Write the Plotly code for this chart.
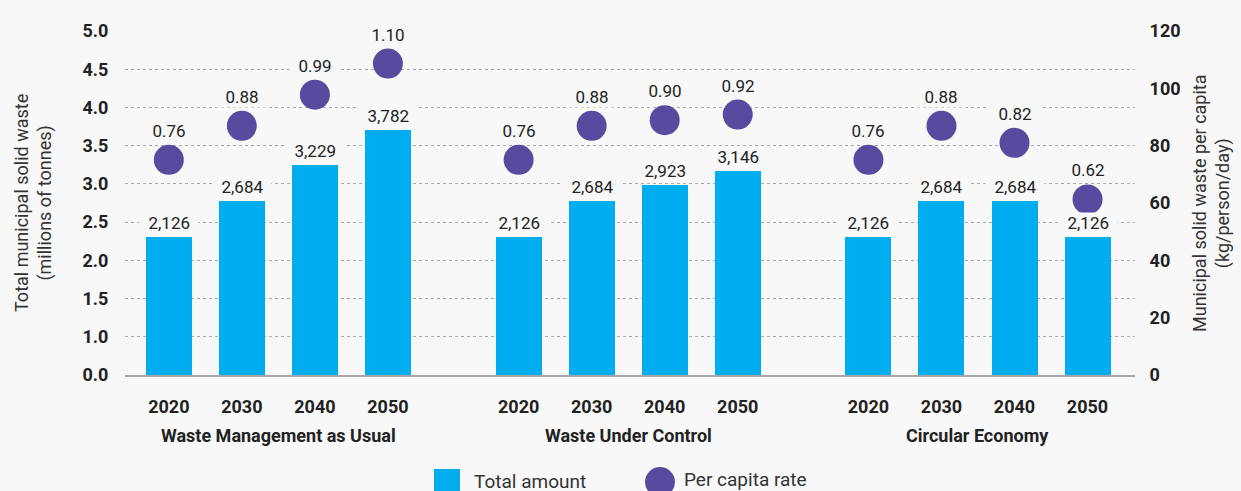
import numpy as np
import plotly.graph_objects as go

scenarios = ["Waste Management as Usual", "Waste Under Control", "Circular Economy"]
years = ["2020", "2030", "2040", "2050"]
total_amount = [
    [2126, 2684, 3229, 3782],
    [2126, 2684, 2923, 3146],
    [2126, 2684, 2684, 2126],
]
per_capita = [
    [0.76, 0.88, 0.99, 1.10],
    [0.76, 0.88, 0.90, 0.92],
    [0.76, 0.88, 0.82, 0.62],
]
left_ticks = ["0.0", "1.0", "1.5", "2.0", "2.5", "3.0", "3.5", "4.0", "4.5", "5.0"]
right_ticks = ["0", "20", "40", "60", "80", "100", "120"]

BG = "#f8f8f8"
BAR = "#00adef"
DOT = "#574b9f"
TXT = "#222222"
FONT = "Roboto, sans-serif"

GAP = 0.79
Y1_MAX = 5300
Y2_MAX = 1.215

xs, ys, ys2, xlab = [], [], [], []
for g, scen in enumerate(scenarios):
    for i, yr in enumerate(years):
        xs.append(g * (len(years) + GAP) + i)
        ys.append(total_amount[g][i])
        ys2.append(per_capita[g][i])
        xlab.append(yr)

fig = go.Figure()
fig.add_trace(go.Bar(x=xs, y=ys, width=0.63, marker=dict(color=BAR, line_width=0),
                     name="Total amount", showlegend=False))
fig.add_trace(go.Scatter(x=xs, y=ys2, yaxis="y2", mode="markers",
                         marker=dict(color=DOT, size=30, line_width=0),
                         name="Per capita rate", showlegend=False))

ann = []
# value labels with background so gridlines break behind them
for x, v in zip(xs, ys):
    ann.append(dict(x=x, y=v, xref="x", yref="y", text="\u00a0\u00a0" + f"{v:,}" + "\u00a0\u00a0",
                    showarrow=False, yshift=14, yanchor="middle", bgcolor=BG, borderpad=0,
                    font=dict(family=FONT, size=17, color=TXT)))
for x, v in zip(xs, ys2):
    ann.append(dict(x=x, y=v, xref="x", yref="y2", text="\u00a0\u00a0" + f"{v:.2f}" + "\u00a0\u00a0",
                    showarrow=False, yshift=29, yanchor="middle", bgcolor=BG, borderpad=0,
                    font=dict(family=FONT, size=17, color=TXT)))
# scenario names under the years
for g, scen in enumerate(scenarios):
    cx = g * (len(years) + GAP) + (len(years) - 1) / 2
    ann.append(dict(x=cx, y=0, xref="x", yref="paper", yshift=-60, yanchor="middle",
                    text=f"<b>{scen}</b>", showarrow=False,
                    font=dict(family=FONT, size=18, color=TXT)))
# axis titles
ann.append(dict(x=0, y=0.5, xref="paper", yref="paper", xshift=-92, xanchor="center",
                yanchor="middle", textangle=-90,
                text="Total municipal solid waste<br>(millions of tonnes)", showarrow=False,
                font=dict(family=FONT, size=18, color="#333333")))
ann.append(dict(x=1, y=0.5, xref="paper", yref="paper", xshift=76, xanchor="center",
                yanchor="middle", textangle=-90,
                text="Municipal solid waste per capita<br>(kg/person/day)", showarrow=False,
                font=dict(family=FONT, size=18, color="#333333")))
# legend
ann.append(dict(x=(472 - 125) / 1010, y=-(481 - 375) / 344, xref="paper", yref="paper",
                xanchor="left", yanchor="middle", text="Total amount", showarrow=False,
                font=dict(family=FONT, size=19, color="#333333")))
ann.append(dict(x=(682 - 125) / 1010, y=-(480 - 375) / 344, xref="paper", yref="paper",
                xanchor="left", yanchor="middle", text="Per capita rate", showarrow=False,
                font=dict(family=FONT, size=19, color="#333333")))

shapes = [
    dict(type="rect", xref="paper", yref="paper",
         x0=(434 - 125) / 1010, x1=(460 - 125) / 1010,
         y0=-(495 - 375) / 344, y1=-(469 - 375) / 344,
         fillcolor=BAR, line_width=0),
    dict(type="circle", xref="paper", yref="paper",
         x0=(645 - 125) / 1010, x1=(675 - 125) / 1010,
         y0=-(497 - 375) / 344, y1=-(467 - 375) / 344,
         fillcolor=DOT, line_width=0),
]

fig.update_layout(
    width=1241, height=491,
    margin=dict(l=125, r=106, t=31, b=116),
    paper_bgcolor=BG, plot_bgcolor=BG,
    showlegend=False,
    annotations=ann, shapes=shapes,
    bargap=0,
    xaxis=dict(range=[-0.6, 13.23], tickvals=xs, ticktext=[f"<b>{t}</b>" for t in xlab],
               tickfont=dict(family=FONT, size=18, color=TXT),
               ticks="outside", ticklen=14, tickcolor=BG,
               showline=True, linecolor="#a6a6a6", linewidth=2,
               showgrid=False, zeroline=False),
    yaxis=dict(range=[0, Y1_MAX], tickvals=np.linspace(0, Y1_MAX, len(left_ticks)),
               ticktext=[f"<b>{t}</b>" for t in left_ticks],
               tickfont=dict(family=FONT, size=18, color=TXT),
               ticks="outside", ticklen=12, tickcolor=BG,
               showgrid=True, gridcolor="#aaaaaa", griddash="dot", gridwidth=1,
               zeroline=False, showline=False),
    yaxis2=dict(range=[0, Y2_MAX], overlaying="y", side="right",
                tickvals=np.linspace(0, Y2_MAX, len(right_ticks)),
                ticktext=[f"<b>{t}</b>" for t in right_ticks],
                tickfont=dict(family=FONT, size=18, color=TXT),
                ticks="outside", ticklen=10, tickcolor=BG,
                showgrid=False, zeroline=False, showline=False),
)

fig.write_html("out.html", config={"displayModeBar": False},
               post_script="document.body.style.margin='0';")
